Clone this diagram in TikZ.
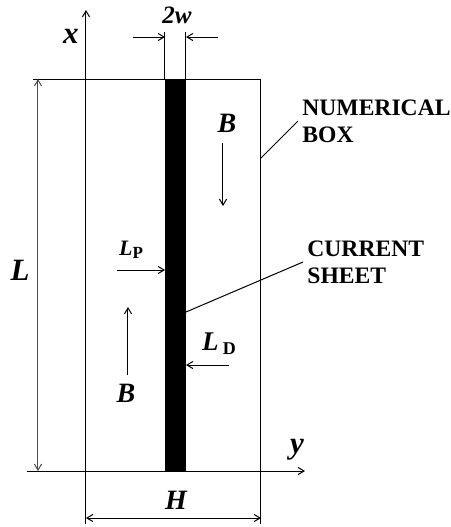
\documentclass[tikz,border=0pt]{standalone}
\usepackage{fontspec}
\setmainfont{Liberation Serif}
\usetikzlibrary{arrows.meta}
\usetikzlibrary{positioning}

\begin{document}
\begin{tikzpicture}[
    x=0.5pt, y=-0.5pt,
    thin/.style={line width=0.5pt, draw=black},
    dimline/.style={line width=0.5pt, draw=black!70},
    arr/.style={-{Straight Barb[length=3pt,width=3.6pt]}, line width=0.5pt},
    dimarr/.style={{Straight Barb[length=3pt,width=3.6pt]}-{Straight Barb[length=3pt,width=3.6pt]},
      line width=0.5pt, draw=black!70},
    sym/.style={font=\fontsize{14}{16}\selectfont\bfseries\itshape, inner sep=1pt},
    bigsym/.style={sym, font=\fontsize{15.5}{17}\selectfont\bfseries\itshape},
    note/.style={font=\fontsize{11.8}{13.5}\selectfont\bfseries, align=left,
      anchor=west, inner sep=2pt},
  ]
    \useasboundingbox (0,0) rectangle (451,527);

    % Numerical box and the current sheet
    \fill[black] (165,79) rectangle (186,471);
    \draw[thin] (33,79) -- (261,79) -- (261,524);

    % Axes
    \coordinate (xfoot) at (86,524);
    \coordinate (xtip)  at (86,10);
    \coordinate (yfoot) at (27,471);
    \coordinate (ytip)  at (305,471);
    \draw[thin, arr] (xfoot) -- (xtip);
    \draw[thin, arr] (yfoot) -- (ytip);
    \node[bigsym] (xlab) at (71,36) {x};
    \node[bigsym] (ylab) at (297,450) {y};

    % Width of the sheet
    \draw[thin] (165,79) -- (165,32);
    \draw[thin] (186,79) -- (186,32);
    \coordinate (wl0) at (133,37);
    \coordinate (wl1) at (165,37);
    \coordinate (wr0) at (218,37);
    \coordinate (wr1) at (186,37);
    \draw[thin, arr] (wl0) -- (wl1);
    \draw[thin, arr] (wr0) -- (wr1);
    \node[sym, font=\fontsize{12.5}{14}\selectfont\bfseries\itshape] (wlab) at (177,15) {2w};

    % Length L and width H
    \coordinate (Ltop) at (38,79);
    \coordinate (Lbot) at (38,471);
    \draw[dimarr] (Ltop) -- (Lbot);
    \node[bigsym] (Llab) at (20,270) {L};
    \coordinate (Hleft)  at (86,518);
    \coordinate (Hright) at (261,518);
    \draw[dimarr, draw=black] (Hleft) -- (Hright);
    \node[sym] (Hlab) at (176,500) {H};

    % Field directions
    \node[sym] (Bup) at (227,123) {B};
    \coordinate (bu0) at (223,143);
    \coordinate (bu1) at (223,206);
    \draw[thin, arr] (bu0) -- (bu1);
    \node[sym] (Bdown) at (126,393) {B};
    \coordinate (bd0) at (128,375);
    \coordinate (bd1) at (128,307);
    \draw[thin, arr] (bd0) -- (bd1);

    % Inflow and outflow scales
    \node[inner sep=0pt] (LP) at (131,250)
      {\fontsize{11}{13}\selectfont\bfseries\itshape L\raisebox{-1.5pt}{\fontsize{8.5}{10}\selectfont\upshape P}};
    \coordinate (lp0) at (117,270);
    \coordinate (lp1) at (165,270);
    \draw[thin, arr] (lp0) -- (lp1);
    \node[inner sep=0pt] (LD) at (219,344)
      {\fontsize{13.5}{15}\selectfont\bfseries\itshape L\,\raisebox{-2pt}{\fontsize{9}{11}\selectfont\upshape D}};
    \coordinate (ld0) at (229,365);
    \coordinate (ld1) at (186,365);
    \draw[thin, arr] (ld0) -- (ld1);

    % Annotations
    \node[note] (numbox) at (298,121) {NUMERICAL\\BOX};
    \coordinate (nbfoot) at (261,158);
    \draw[thin] (nbfoot) -- (numbox.west);
    \node[note] (csheet) at (303,262) {CURRENT\\SHEET};
    \coordinate (csfoot) at (186,312);
    \draw[thin] (csfoot) -- (csheet.west);

\end{tikzpicture}
\end{document}
